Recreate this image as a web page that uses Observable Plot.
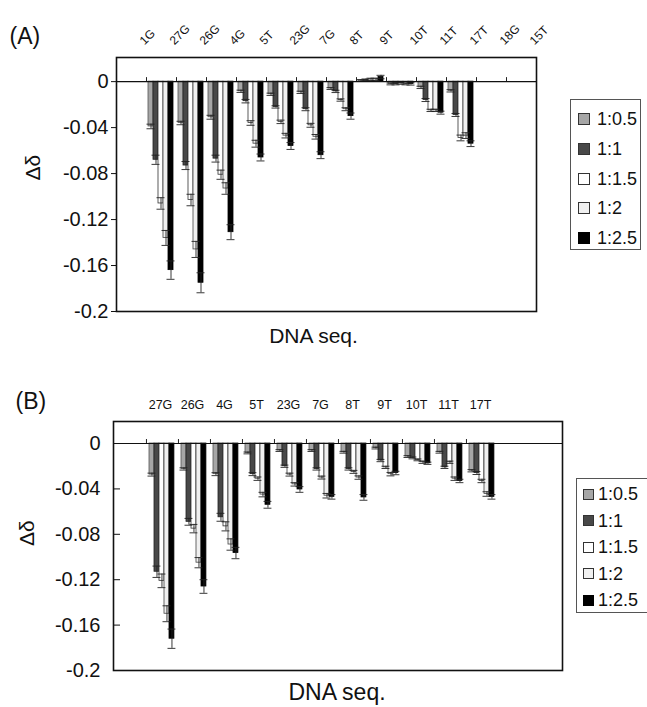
<!DOCTYPE html>
<html><head><meta charset="utf-8">
<script src="https://cdn.jsdelivr.net/npm/d3@7"></script>
<script src="https://cdn.jsdelivr.net/npm/@observablehq/plot@0.6"></script>
<style>
body{margin:0;background:#fff;font-family:"Liberation Sans",Arial,sans-serif;}
#wrap{position:relative;width:647px;height:707px;overflow:hidden;background:#fff;}
#wrap svg{display:block;}
.legend{position:absolute;border:1px solid #555;background:#fff;box-sizing:border-box;}
.sw{position:absolute;box-sizing:border-box;border:1px solid #333;}
.lab{position:absolute;line-height:1;color:#111;white-space:nowrap;}
</style></head>
<body><div id="wrap"></div>
<script>
// ---- data ----
const series = ["1:0.5", "1:1", "1:1.5", "1:2", "1:2.5"];
const fills   = ["#a6a6a6", "#484848", "#ffffff", "#f0f0f0", "#000000"];
const strokes = ["#555555", "#222222", "#333333", "#444444", "#000000"];

const catsA = ["1G","27G","26G","4G","5T","23G","7G","8T","9T","10T","11T","17T","18G","15T"];
const valA_05  = [null,-0.039,-0.036,-0.031,-0.0084,-0.011,-0.0093,-0.006,0.001,-0.002,-0.005,-0.008,null,null];
const valA_1   = [null,-0.068,-0.073,-0.067,-0.017,-0.022,-0.024,-0.0085,0.0015,-0.002,-0.016,-0.029,null,null];
const valA_15  = [null,-0.106,-0.103,-0.081,-0.036,-0.035,-0.038,-0.016,0.002,-0.0015,-0.025,-0.049,null,null];
const valA_2   = [null,-0.136,-0.146,-0.093,-0.054,-0.047,-0.048,-0.024,0.002,-0.002,-0.025,-0.047,null,null];
const valA_25  = [null,-0.164,-0.175,-0.131,-0.066,-0.056,-0.064,-0.030,0.004,-0.002,-0.027,-0.054,null,null];
const errA_05  = [null,0.002,0.0015,0.0017,0.001,0.001,0.001,0.0008,0.0008,0.0008,0.001,0.001,null,null];
const errA_1   = [null,0.004,0.0035,0.003,0.0015,0.001,0.0013,0.001,0.0008,0.0008,0.0013,0.0013,null,null];
const errA_15  = [null,0.005,0.005,0.004,0.002,0.0015,0.0017,0.001,0.001,0.0008,0.001,0.0025,null,null];
const errA_2   = [null,0.0065,0.007,0.005,0.003,0.002,0.002,0.0013,0.001,0.0008,0.001,0.0025,null,null];
const errA_25  = [null,0.008,0.0087,0.0065,0.003,0.003,0.003,0.0027,0.0015,0.001,0.0013,0.0025,null,null];

const catsB = ["27G","26G","4G","5T","23G","7G","8T","9T","10T","11T","17T"];
const valB_05  = [-0.0274,-0.0224,-0.027,-0.0083,-0.0062,-0.0062,-0.0077,-0.004,-0.0115,-0.0077,-0.024];
const valB_1   = [-0.113,-0.069,-0.065,-0.027,-0.020,-0.0224,-0.0224,-0.015,-0.0127,-0.021,-0.026];
const valB_15  = [-0.121,-0.075,-0.073,-0.031,-0.0274,-0.030,-0.025,-0.021,-0.0144,-0.0165,-0.033];
const valB_2   = [-0.150,-0.105,-0.089,-0.045,-0.036,-0.046,-0.030,-0.027,-0.0165,-0.031,-0.0445];
const valB_25  = [-0.172,-0.126,-0.0965,-0.054,-0.0405,-0.047,-0.0475,-0.026,-0.0174,-0.033,-0.047];
const errB_05  = [0.0013,0.001,0.0013,0.0008,0.0008,0.0008,0.0008,0.0008,0.0008,0.0008,0.001];
const errB_1   = [0.005,0.003,0.0035,0.0013,0.001,0.001,0.001,0.001,0.0008,0.001,0.0013];
const errB_15  = [0.006,0.0037,0.004,0.0015,0.0013,0.0013,0.0013,0.001,0.0008,0.001,0.0015];
const errB_2   = [0.007,0.0045,0.005,0.002,0.0015,0.002,0.0015,0.0015,0.001,0.0015,0.002];
const errB_25  = [0.0085,0.006,0.005,0.003,0.0025,0.002,0.0025,0.0015,0.001,0.0015,0.002];

const yTicks = [0, -0.04, -0.08, -0.12, -0.16, -0.2];
const xTitle = "DNA seq.";
const yTitle = "Δδ";

// ---- build ----
function rowsFor(cats, vals, errs) {
  const rows = [];
  vals.forEach((arr, k) => arr.forEach((v, i) => {
    if (v != null) rows.push({cat: cats[i], k, series: series[k], value: v, err: errs[k][i]});
  }));
  return rows;
}

const FONT = "'Liberation Sans', Arial, sans-serif";

function panel(cfg) {
  const rows = rowsFor(cfg.cats, cfg.vals, cfg.errs);
  const bw = (cfg.xRange[1] - cfg.xRange[0]) / cfg.cats.length;
  const barW = 5, capW = 8;
  const marks = [];
  series.forEach((s, k) => {
    const data = rows.filter(d => d.k === k);
    const left = cfg.barOffset + barW * k;
    marks.push(Plot.barY(data, {x: "cat", y: "value", fill: fills[k], stroke: strokes[k], strokeWidth: 0.8,
      insetLeft: left, insetRight: bw - left - barW}));
  });
  series.forEach((s, k) => {
    const data = rows.filter(d => d.k === k);
    const left = cfg.barOffset + barW * k;
    const c = left + barW / 2;
    marks.push(Plot.ruleX(data, {x: "cat", y1: d => d.value - d.err, y2: d => d.value + d.err, dx: c - bw / 2, stroke: "#222", strokeWidth: 0.9}));
    marks.push(Plot.tickY(data, {x: "cat", y: d => d.value - d.err, insetLeft: c - capW / 2, insetRight: bw - c - capW / 2, stroke: "#222", strokeWidth: 0.9}));
    marks.push(Plot.tickY(data, {x: "cat", y: d => d.value + d.err, insetLeft: c - capW / 2, insetRight: bw - c - capW / 2, stroke: "#222", strokeWidth: 0.9}));
  });
  marks.push(Plot.ruleY([0], {stroke: "#111", strokeWidth: 1.2}));
  marks.push(Plot.ruleX(cfg.tickCats, {x: d => d, dx: -bw / 2, y1: 0, y2: 0, insetTop: -4, insetBottom: 0, stroke: "#222", strokeWidth: 1}));
  marks.push(Plot.frame({stroke: "#111", strokeWidth: 1.6}));
  marks.push(Plot.text(cfg.cats, {x: d => d, text: d => d, frameAnchor: "top", dx: cfg.labDx, dy: cfg.labDy,
    rotate: cfg.labRotate, textAnchor: cfg.labRotate ? "start" : "middle", fontSize: cfg.labSize, fill: "#111"}));
  marks.push(Plot.text([cfg.tag], {text: d => d, frameAnchor: "top-left", dx: cfg.tagDx, dy: cfg.tagDy, textAnchor: "start", fontSize: 23, fill: "#111"}));
  marks.push(Plot.text([yTitle], {text: d => d, frameAnchor: "left", dx: cfg.ytDx, dy: cfg.ytDy, rotate: -90, fontSize: 21, fill: "#111"}));
  marks.push(Plot.text([xTitle], {text: d => d, frameAnchor: "bottom", dx: cfg.xtDx, dy: cfg.xtDy, fontSize: cfg.xtSize, fill: "#111"}));

  return Plot.plot({
    width: 647, height: cfg.height,
    marginTop: cfg.mt, marginBottom: cfg.mb, marginLeft: cfg.ml, marginRight: cfg.mr,
    style: {fontSize: "20px", fontFamily: FONT, color: "#111", background: "#fff"},
    x: {type: "band", domain: cfg.cats, range: cfg.xRange, padding: 0, axis: null},
    y: {domain: [-0.2, cfg.yTop], ticks: yTicks, tickFormat: d => String(d), tickSize: cfg.tickSize, tickPadding: cfg.tickPadding, label: null},
    marks
  });
}

const wrap = document.getElementById("wrap");

wrap.appendChild(panel({
  tag: "(A)", cats: catsA,
  vals: [valA_05, valA_1, valA_15, valA_2, valA_25],
  errs: [errA_05, errA_1, errA_15, errA_2, errA_25],
  height: 360, mt: 57, mb: 49, ml: 116, mr: 111, yTop: 0.021,
  xRange: [116, 536], tickCats: catsA.slice(1), barOffset: 2,
  labDx: 7, labDy: -18, labRotate: -45, labSize: 12,
  tagDx: 9 - 116, tagDy: 27 - 57,
  ytDx: 33 - 116, ytDy: -4,
  xtDx: -13, xtDy: 31, xtSize: 21,
  tickSize: 5, tickPadding: 3
}));

wrap.appendChild(panel({
  tag: "(B)", cats: catsB,
  vals: [valB_05, valB_1, valB_15, valB_2, valB_25],
  errs: [errB_05, errB_1, errB_15, errB_2, errB_25],
  height: 347, mt: 61, mb: 37, ml: 113, mr: 85, yTop: 0.0194,
  xRange: [145, 498], tickCats: catsB, barOffset: 3,
  labDx: -2, labDy: -21, labRotate: 0, labSize: 12.5,
  tagDx: 15 - 113, tagDy: 32 - 61,
  ytDx: 27 - 113, ytDy: 0,
  xtDx: -1, xtDy: 29, xtSize: 23,
  tickSize: -7, tickPadding: 20
}));

function legend(box, items) {
  const div = document.createElement("div");
  div.className = "legend";
  Object.assign(div.style, {left: box.left + "px", top: box.top + "px", width: box.w + "px", height: box.h + "px"});
  series.forEach((s, k) => {
    const y = items.first + items.step * k;
    const sw = document.createElement("div");
    sw.className = "sw";
    Object.assign(sw.style, {left: items.swLeft + "px", top: (y - items.sw / 2) + "px", width: items.sw + "px", height: items.sw + "px",
      background: fills[k], borderColor: k === 4 ? "#000" : "#333"});
    const t = document.createElement("div");
    t.className = "lab";
    t.textContent = s;
    Object.assign(t.style, {left: items.txtLeft + "px", top: (y - items.font * 0.5) + "px", fontSize: items.font + "px"});
    div.appendChild(sw); div.appendChild(t);
  });
  wrap.appendChild(div);
}
legend({left: 570, top: 99, w: 71, h: 151}, {first: 19, step: 29.8, swLeft: 7, sw: 12, txtLeft: 26, font: 18});
legend({left: 576, top: 478, w: 72, h: 135}, {first: 15, step: 26.5, swLeft: 6, sw: 11, txtLeft: 21, font: 18});
</script>
</body></html>
